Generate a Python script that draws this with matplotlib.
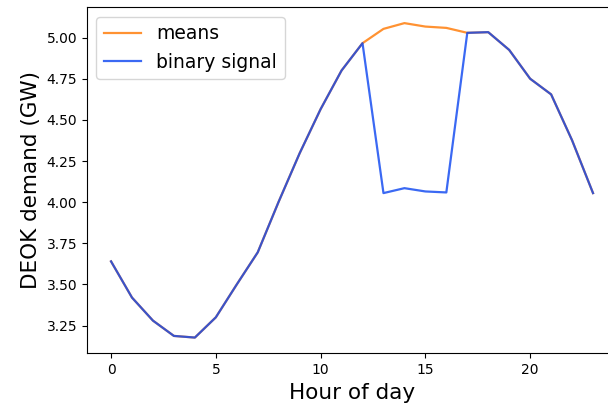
import matplotlib
matplotlib.use("Agg")
import matplotlib.pyplot as plt

hours = list(range(24))
means = [3.64, 3.42, 3.28, 3.187, 3.177, 3.30, 3.50, 3.695, 4.003, 4.297,
         4.565, 4.80, 4.966, 5.053, 5.088, 5.067, 5.059, 5.029, 5.033, 4.925,
         4.75, 4.655, 4.376, 4.055]
binary_signal = [3.64, 3.42, 3.28, 3.187, 3.177, 3.30, 3.50, 3.695, 4.003, 4.297,
                 4.565, 4.80, 4.966, 4.055, 4.085, 4.065, 4.059, 5.029, 5.033, 4.925,
                 4.75, 4.655, 4.376, 4.055]

fig = plt.figure(figsize=(6.08, 4.11), dpi=100)
# the source image is cropped on the right, so the axes run past the edge
ax = fig.add_axes([0.143, 0.1404, 0.872, 0.8416])
ax.plot(hours, means, color='#ff7f0e', lw=1.6, alpha=0.85, label='means')
ax.plot(hours, binary_signal, color='#0a44f0', lw=1.6, alpha=0.8, label='binary signal')
ax.spines['right'].set_visible(False)
ax.set_yticks([3.25, 3.5, 3.75, 4.0, 4.25, 4.5, 4.75, 5.0])
ax.set_xticks([0, 5, 10, 15, 20])
ax.set_xlabel('Hour of day', fontsize=15.5)
ax.set_ylabel('DEOK demand (GW)', fontsize=15.5)
ax.legend(loc='upper left', fontsize=13.5)
fig.savefig('out.png', dpi=100)
